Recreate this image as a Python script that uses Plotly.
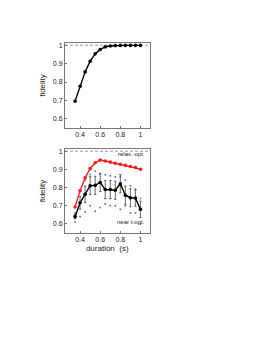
import plotly.graph_objects as go

durations = [0.35, 0.4, 0.45, 0.5, 0.55, 0.6, 0.65, 0.7, 0.75, 0.8, 0.85, 0.9, 0.95, 1.0]

# top panel
fid_top = [0.695, 0.777, 0.855, 0.913, 0.953, 0.977, 0.991, 0.996, 0.998, 0.999, 0.999, 0.999, 0.999, 0.999]

# bottom panel
fid_relax = [0.693, 0.783, 0.854, 0.904, 0.936, 0.951, 0.946, 0.940, 0.934, 0.928, 0.922, 0.916, 0.910, 0.901]
fid_near = [0.640, 0.716, 0.763, 0.810, 0.812, 0.828, 0.789, 0.789, 0.785, 0.821, 0.758, 0.744, 0.742, 0.680]
fid_near_err = [0.012, 0.035, 0.045, 0.05, 0.05, 0.05, 0.05, 0.05, 0.05, 0.05, 0.05, 0.05, 0.045, 0.045]
fid_near_max = [0.660, 0.780, 0.840, 0.870, 0.890, 0.875, 0.870, 0.865, 0.860, 0.860, 0.840, 0.810, 0.790, 0.740]
fid_near_min = [0.610, 0.640, 0.665, 0.700, 0.670, 0.690, 0.710, 0.700, 0.700, 0.680, 0.700, 0.660, 0.660, 0.600]

x_ticks = [0.4, 0.6, 0.8, 1.0]
x_ticklabels = ["0.4", "0.6", "0.8", "1"]
y_ticks = [0.6, 0.7, 0.8, 0.9, 1.0]
y_ticklabels = ["0.6", "0.7", "0.8", "0.9", "1"]

W, H = 274, 354
FONT = "Liberation Sans, Arial, sans-serif"

fig = go.Figure()

# dashed reference lines
for ax in ["", "2"]:
    fig.add_trace(go.Scatter(x=[0.25, 1.09], y=[1, 1], mode="lines",
                             line=dict(color="#999999", width=1, dash="3px,2px"),
                             xaxis="x" + ax, yaxis="y" + ax, showlegend=False, hoverinfo="skip"))

fig.add_trace(go.Scatter(x=durations, y=fid_top, mode="lines+markers",
                         line=dict(color="black", width=1.4),
                         marker=dict(color="black", size=3.6),
                         xaxis="x", yaxis="y", showlegend=False))

fig.add_trace(go.Scatter(x=durations, y=fid_near_max, mode="markers",
                         marker=dict(color="#6070ff", size=2),
                         xaxis="x2", yaxis="y2", showlegend=False))
fig.add_trace(go.Scatter(x=durations, y=fid_near_min, mode="markers",
                         marker=dict(color="#6070ff", size=2),
                         xaxis="x2", yaxis="y2", showlegend=False))

fig.add_trace(go.Scatter(x=durations, y=fid_relax, mode="lines+markers",
                         line=dict(color="#ff1a1a", width=1.4),
                         marker=dict(color="#ff1a1a", size=3.6),
                         xaxis="x2", yaxis="y2", showlegend=False))

fig.add_trace(go.Scatter(x=durations, y=fid_near, mode="lines+markers",
                         line=dict(color="black", width=1.4),
                         marker=dict(color="black", size=3.6),
                         error_y=dict(type="data", array=fid_near_err, color="#444444",
                                      thickness=0.8, width=1.2),
                         xaxis="x2", yaxis="y2", showlegend=False))

xdom = [57 / W, 141.5 / W]
axis_common = dict(range=[0.25, 1.09], tickvals=x_ticks, ticktext=x_ticklabels,
                   showline=True, linecolor="#777777", linewidth=1, mirror=True,
                   ticks="inside", ticklen=2, tickcolor="#777777", showgrid=False,
                   zeroline=False, tickfont=dict(size=7, color="#222222", family=FONT))
yaxis_common = dict(range=[0.55, 1.012], tickvals=y_ticks, ticktext=y_ticklabels,
                    showline=True, linecolor="#777777", linewidth=1, mirror=True,
                    ticks="inside", ticklen=2, tickcolor="#777777", showgrid=False,
                    zeroline=False, tickfont=dict(size=7, color="#222222", family=FONT),
                    title=dict(text="fidelity", font=dict(size=8, color="#222222", family=FONT),
                               standoff=6))

fig.update_layout(
    width=W, height=H,
    margin=dict(l=0, r=0, t=0, b=0),
    paper_bgcolor="white", plot_bgcolor="white",
    xaxis=dict(domain=xdom, anchor="y", **axis_common),
    yaxis=dict(domain=[1 - 120 / H, 1 - 35 / H], anchor="x", **yaxis_common),
    xaxis2=dict(domain=xdom, anchor="y2",
                title=dict(text="duration  (s)", font=dict(size=8, color="#222222", family=FONT),
                           standoff=2),
                **axis_common),
    yaxis2=dict(domain=[1 - 225 / H, 1 - 141 / H], anchor="x2", **yaxis_common),
    annotations=[
        dict(text="relax.-opt.", x=1.07, y=0.985, xref="x2", yref="y2", xanchor="right",
             yanchor="middle", showarrow=False, font=dict(size=6, color="#222222", family=FONT)),
        dict(text="near t-opt.", x=1.07, y=0.61, xref="x2", yref="y2", xanchor="right",
             yanchor="middle", showarrow=False, font=dict(size=6, color="#222222", family=FONT)),
    ],
)

fig.write_html("out.html")
